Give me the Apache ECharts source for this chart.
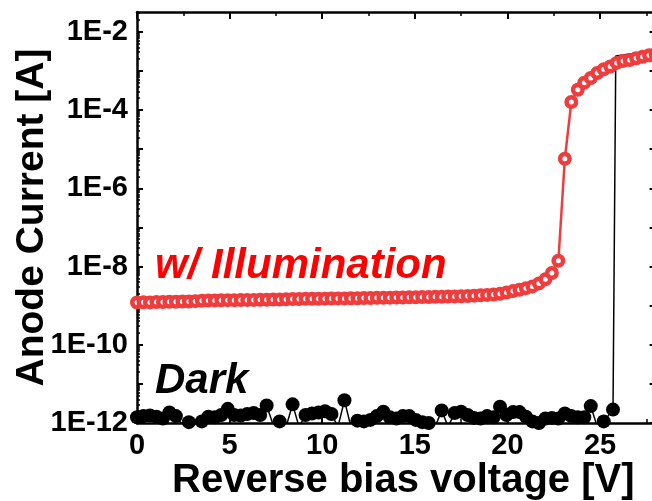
<!DOCTYPE html>
<html><head><meta charset="utf-8">
<script src="https://cdn.jsdelivr.net/npm/echarts@6/dist/echarts.min.js"></script>
<style>html,body{margin:0;padding:0;background:#fff}#c{width:652px;height:501px}</style>
</head><body><div id="c"></div>
<script>
// Reverse bias voltage [V] (illuminated sweep)
const voltage = [0, 0.35, 0.7, 1.05, 1.4, 1.75, 2.1, 2.45, 2.8, 3.15, 3.5, 3.85, 4.2, 4.55, 4.9, 5.25, 5.6, 5.95, 6.3, 6.65,
  7.0, 7.35, 7.7, 8.05, 8.4, 8.75, 9.1, 9.45, 9.8, 10.15, 10.5, 10.85, 11.2, 11.55, 11.9, 12.25, 12.6, 12.95, 13.3, 13.65,
  14.0, 14.35, 14.7, 15.05, 15.4, 15.75, 16.1, 16.45, 16.8, 17.15, 17.5, 17.85, 18.2, 18.55, 18.9, 19.25, 19.6, 19.95, 20.3, 20.65,
  21.0, 21.35, 21.7, 22.05, 22.4, 22.75, 23.1, 23.45, 23.8, 24.15, 24.5, 24.85, 25.2, 25.55, 25.9, 26.25, 26.6, 26.95, 27.3, 27.65, 28.0];

// Reverse bias voltage [V] (dark sweep)
const darkVoltage = [0, 0.35, 0.7, 1.05, 1.4, 1.75, 2.1, 2.45, 2.8, 3.15, 3.5, 3.85, 4.2, 4.55, 4.9, 5.25, 5.6, 5.95, 6.3, 6.65,
  7.0, 7.35, 7.7, 8.05, 8.4, 8.75, 9.1, 9.45, 9.8, 10.15, 10.5, 10.85, 11.2, 11.55, 11.9, 12.25, 12.6, 12.95, 13.3, 13.65,
  14.0, 14.35, 14.7, 15.05, 15.4, 15.75, 16.1, 16.45, 16.8, 17.15, 17.5, 17.85, 18.2, 18.55, 18.9, 19.25, 19.6, 19.95, 20.3, 20.65,
  21.0, 21.35, 21.7, 22.05, 22.4, 22.75, 23.1, 23.45, 23.8, 24.15, 24.5, 24.85, 25.2, 25.7, 25.85, 26.25, 26.6, 26.95, 27.3, 27.65, 28.0];

// Anode current [A] with illumination
const illuminated = [1.20e-9, 1.22e-9, 1.21e-9, 1.23e-9, 1.24e-9, 1.25e-9, 1.26e-9, 1.27e-9, 1.28e-9, 1.30e-9,
  1.33e-9, 1.35e-9, 1.36e-9, 1.37e-9, 1.38e-9, 1.38e-9, 1.39e-9, 1.40e-9, 1.40e-9, 1.41e-9, 1.42e-9, 1.43e-9, 1.44e-9, 1.45e-9,
  1.47e-9, 1.48e-9, 1.49e-9, 1.50e-9, 1.50e-9, 1.51e-9, 1.52e-9, 1.53e-9, 1.53e-9, 1.54e-9, 1.55e-9, 1.56e-9, 1.57e-9, 1.58e-9,
  1.59e-9, 1.60e-9, 1.61e-9, 1.62e-9, 1.63e-9, 1.64e-9, 1.65e-9, 1.66e-9, 1.68e-9, 1.69e-9, 1.70e-9, 1.72e-9,
  1.74e-9, 1.77e-9, 1.80e-9, 1.84e-9, 1.88e-9, 1.93e-9,
  2.0e-9, 2.15e-9, 2.35e-9, 2.55e-9, 2.8e-9,
  3.1e-9, 3.7e-9, 4.7e-9, 6.8e-9, 1.4e-8,
  5.7e-6, 1.6e-4, 3.3e-4, 5.0e-4, 6.6e-4, 8.8e-4, 1.1e-3, 1.3e-3, 1.6e-3, 1.8e-3, 1.9e-3, 2.1e-3, 2.3e-3, 2.5e-3, 2.7e-3];

// Anode current [A] in the dark
const dark = [1.4e-12, 1.5e-12, 1.55e-12, 1.45e-12, 1.3e-12, 1.85e-12, 1.5e-12, 9e-13, 1.05e-12, 9e-13,
  1.1e-12, 1.45e-12, 1.4e-12, 1.6e-12, 2.3e-12, 1.6e-12, 1.55e-12, 1.7e-12, 1.8e-12, 1.6e-12,
  2.8e-12, 9e-13, 1.1e-12, 8e-13, 3.0e-12, 8e-13, 1.6e-12, 1.75e-12, 1.85e-12, 2.0e-12,
  1.7e-12, 8e-13, 3.8e-12, 8e-13, 1.15e-12, 1.1e-12, 1.2e-12, 1.5e-12, 1.95e-12, 1.4e-12,
  1.3e-12, 1.5e-12, 1.5e-12, 1.2e-12, 1.05e-12, 1.0e-12, 8e-13, 2.1e-12, 8e-13, 1.8e-12,
  1.95e-12, 1.6e-12, 1.35e-12, 1.3e-12, 1.5e-12, 1.4e-12, 2.6e-12, 1.6e-12, 1.9e-12, 1.9e-12,
  1.45e-12, 1.1e-12, 1.0e-12, 1.3e-12, 1.35e-12, 1.3e-12, 1.75e-12, 1.5e-12, 1.4e-12, 1.4e-12,
  2.7e-12, 8e-13, 1.1e-12, 2.2e-12, 2.4e-3, 2.55e-3, 2.7e-3, 2.85e-3, 3.0e-3, 3.1e-3, 3.2e-3];

const xTicks = [0, 5, 10, 15, 20, 25];
const xMinorTicks = [2.5, 7.5, 12.5, 17.5, 22.5, 27.5];
const yTickExponents = [-12, -11, -10, -9, -8, -7, -6, -5, -4, -3, -2];
const yLabelExponents = [-12, -10, -8, -6, -4, -2];

const X_MIN = 0, X_MAX = 28, Y_MIN = 1e-12, Y_MAX = 0.032;
const FONT = '"Liberation Sans", Arial, sans-serif';
const RED = '#f03c3c';
const lg = v => Math.log10(v);

const yMinor = [];
for (let e = -12; e < -1; e++) {
  for (let k = 2; k <= 9; k++) {
    const v = e + Math.log10(k);
    if (v < lg(Y_MAX)) yMinor.push(v);
  }
}

const lineSt = { color: '#000', width: 2.5 };
const tickSt = { color: '#000', width: 2 };
const minorSt = { color: '#000', width: 1.5 };

function xAx(pos, vals, len, main) {
  return {
    type: 'value', min: X_MIN, max: X_MAX, position: pos, gridIndex: 0,
    splitLine: { show: false },
    axisLine: { show: !!main, onZero: false, lineStyle: lineSt },
    axisTick: { show: true, inside: true, length: len, customValues: vals, lineStyle: main ? tickSt : minorSt },
    axisLabel: (main && pos === 'bottom') ? {
      show: true, customValues: xTicks, margin: 8, fontSize: 29, fontWeight: 'bold', color: '#000', fontFamily: FONT
    } : { show: false }
  };
}
function yAx(pos, vals, len, main) {
  return {
    type: 'value', min: lg(Y_MIN), max: lg(Y_MAX), position: pos, gridIndex: 0,
    splitLine: { show: false },
    axisLine: { show: !!main, onZero: false, lineStyle: lineSt },
    axisTick: { show: true, inside: true, length: len, customValues: vals, lineStyle: main ? tickSt : minorSt },
    axisLabel: (main && pos === 'left') ? {
      show: true, customValues: yLabelExponents, formatter: v => '1E' + Math.round(v),
      margin: 9, fontSize: 29, fontWeight: 'bold', color: '#000', fontFamily: FONT
    } : { show: false }
  };
}

const xAxes = [xAx('bottom', xTicks, 7, true), xAx('bottom', xMinorTicks, 4, false),
  xAx('top', xTicks, 7, true), xAx('top', xMinorTicks, 4, false)];
Object.assign(xAxes[0], {
  name: 'Reverse bias voltage [V]', nameLocation: 'middle', nameGap: 38, nameMoveOverlap: false,
  nameTextStyle: { fontSize: 40, fontWeight: 'bold', color: '#000', fontFamily: FONT, padding: [0, 0, 0, 14] }
});
const yAxes = [yAx('left', yTickExponents, 6, true), yAx('left', yMinor, 3, false),
  yAx('right', yTickExponents, 6, true), yAx('right', yMinor, 3, false)];
Object.assign(yAxes[0], {
  name: 'Anode Current [A]', nameLocation: 'middle', nameGap: 85, nameMoveOverlap: false,
  nameTextStyle: { fontSize: 39, fontWeight: 'bold', color: '#000', fontFamily: FONT }
});

const chart = echarts.init(document.getElementById('c'), null, { renderer: 'canvas' });
chart.setOption({
  animation: false,
  backgroundColor: '#fff',
  grid: { left: 137, top: 12, width: 518.6, height: 411, containLabel: false, outerBoundsMode: 'none' },
  xAxis: xAxes,
  yAxis: yAxes,
  series: [
    {
      name: 'Dark', type: 'line', xAxisIndex: 0, yAxisIndex: 0, clip: true,
      data: darkVoltage.map((v, i) => [v, lg(dark[i])]),
      symbol: 'circle', symbolSize: d => (d[1] > -6 ? 0 : 14),
      itemStyle: { color: '#000' }, lineStyle: { color: '#000', width: 1.5 }, z: 2
    },
    {
      name: 'w/ Illumination', type: 'line', xAxisIndex: 0, yAxisIndex: 0, clip: true,
      data: voltage.map((v, i) => [v, lg(illuminated[i])]),
      symbol: 'circle', symbolSize: 9.5,
      itemStyle: { color: '#fff', borderColor: RED, borderWidth: 4.5 },
      lineStyle: { color: RED, width: 2.5 }, z: 3
    }
  ],
  graphic: [
    { type: 'text', x: 155, y: 266, z: 10,
      style: { text: 'w/ Illumination', fill: '#ff0000', font: 'italic bold 42px ' + FONT, verticalAlign: 'middle', align: 'left' } },
    { type: 'text', x: 155, y: 381, z: 10,
      style: { text: 'Dark', fill: '#000', font: 'italic bold 42px ' + FONT, verticalAlign: 'middle', align: 'left' } }
  ]
});
</script>
</body></html>
